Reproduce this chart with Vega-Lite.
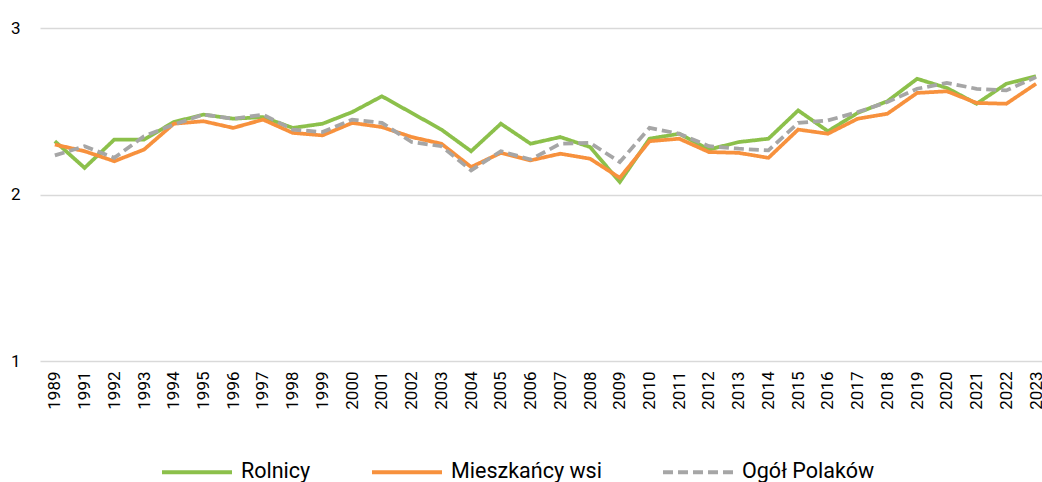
{
  "$schema": "https://vega.github.io/schema/vega-lite/v6.json",
  "width": 1002,
  "height": 333,
  "autosize": {"type": "none"},
  "padding": {"left": 40, "top": 28, "right": 0, "bottom": 121},
  "background": "white",
  "config": {"view": {"stroke": null}, "font": "Roboto"},
  "data": {"values": [
    {"year":"1989","series":"Rolnicy","value":2.32},{"year":"1991","series":"Rolnicy","value":2.16},{"year":"1992","series":"Rolnicy","value":2.33},{"year":"1993","series":"Rolnicy","value":2.33},{"year":"1994","series":"Rolnicy","value":2.435},{"year":"1995","series":"Rolnicy","value":2.48},{"year":"1996","series":"Rolnicy","value":2.455},{"year":"1997","series":"Rolnicy","value":2.465},{"year":"1998","series":"Rolnicy","value":2.4},{"year":"1999","series":"Rolnicy","value":2.425},{"year":"2000","series":"Rolnicy","value":2.495},{"year":"2001","series":"Rolnicy","value":2.59},{"year":"2002","series":"Rolnicy","value":2.49},{"year":"2003","series":"Rolnicy","value":2.39},{"year":"2004","series":"Rolnicy","value":2.26},{"year":"2005","series":"Rolnicy","value":2.425},{"year":"2006","series":"Rolnicy","value":2.305},{"year":"2007","series":"Rolnicy","value":2.345},{"year":"2008","series":"Rolnicy","value":2.285},{"year":"2009","series":"Rolnicy","value":2.075},{"year":"2010","series":"Rolnicy","value":2.335},{"year":"2011","series":"Rolnicy","value":2.365},{"year":"2012","series":"Rolnicy","value":2.27},{"year":"2013","series":"Rolnicy","value":2.315},{"year":"2014","series":"Rolnicy","value":2.335},{"year":"2015","series":"Rolnicy","value":2.505},{"year":"2016","series":"Rolnicy","value":2.38},{"year":"2017","series":"Rolnicy","value":2.49},{"year":"2018","series":"Rolnicy","value":2.56},{"year":"2019","series":"Rolnicy","value":2.695},{"year":"2020","series":"Rolnicy","value":2.64},{"year":"2021","series":"Rolnicy","value":2.545},{"year":"2022","series":"Rolnicy","value":2.665},{"year":"2023","series":"Rolnicy","value":2.71},
    {"year":"1989","series":"Mieszkańcy wsi","value":2.3},{"year":"1991","series":"Mieszkańcy wsi","value":2.26},{"year":"1992","series":"Mieszkańcy wsi","value":2.2},{"year":"1993","series":"Mieszkańcy wsi","value":2.27},{"year":"1994","series":"Mieszkańcy wsi","value":2.425},{"year":"1995","series":"Mieszkańcy wsi","value":2.44},{"year":"1996","series":"Mieszkańcy wsi","value":2.4},{"year":"1997","series":"Mieszkańcy wsi","value":2.45},{"year":"1998","series":"Mieszkańcy wsi","value":2.37},{"year":"1999","series":"Mieszkańcy wsi","value":2.355},{"year":"2000","series":"Mieszkańcy wsi","value":2.43},{"year":"2001","series":"Mieszkańcy wsi","value":2.405},{"year":"2002","series":"Mieszkańcy wsi","value":2.345},{"year":"2003","series":"Mieszkańcy wsi","value":2.305},{"year":"2004","series":"Mieszkańcy wsi","value":2.165},{"year":"2005","series":"Mieszkańcy wsi","value":2.25},{"year":"2006","series":"Mieszkańcy wsi","value":2.205},{"year":"2007","series":"Mieszkańcy wsi","value":2.245},{"year":"2008","series":"Mieszkańcy wsi","value":2.215},{"year":"2009","series":"Mieszkańcy wsi","value":2.1},{"year":"2010","series":"Mieszkańcy wsi","value":2.32},{"year":"2011","series":"Mieszkańcy wsi","value":2.335},{"year":"2012","series":"Mieszkańcy wsi","value":2.255},{"year":"2013","series":"Mieszkańcy wsi","value":2.25},{"year":"2014","series":"Mieszkańcy wsi","value":2.22},{"year":"2015","series":"Mieszkańcy wsi","value":2.39},{"year":"2016","series":"Mieszkańcy wsi","value":2.365},{"year":"2017","series":"Mieszkańcy wsi","value":2.455},{"year":"2018","series":"Mieszkańcy wsi","value":2.485},{"year":"2019","series":"Mieszkańcy wsi","value":2.61},{"year":"2020","series":"Mieszkańcy wsi","value":2.62},{"year":"2021","series":"Mieszkańcy wsi","value":2.55},{"year":"2022","series":"Mieszkańcy wsi","value":2.545},{"year":"2023","series":"Mieszkańcy wsi","value":2.665},
    {"year":"1989","series":"Ogół Polaków","value":2.235},{"year":"1991","series":"Ogół Polaków","value":2.29},{"year":"1992","series":"Ogół Polaków","value":2.22},{"year":"1993","series":"Ogół Polaków","value":2.35},{"year":"1994","series":"Ogół Polaków","value":2.42},{"year":"1995","series":"Ogół Polaków","value":2.48},{"year":"1996","series":"Ogół Polaków","value":2.455},{"year":"1997","series":"Ogół Polaków","value":2.48},{"year":"1998","series":"Ogół Polaków","value":2.39},{"year":"1999","series":"Ogół Polaków","value":2.375},{"year":"2000","series":"Ogół Polaków","value":2.45},{"year":"2001","series":"Ogół Polaków","value":2.43},{"year":"2002","series":"Ogół Polaków","value":2.315},{"year":"2003","series":"Ogół Polaków","value":2.29},{"year":"2004","series":"Ogół Polaków","value":2.145},{"year":"2005","series":"Ogół Polaków","value":2.26},{"year":"2006","series":"Ogół Polaków","value":2.21},{"year":"2007","series":"Ogół Polaków","value":2.305},{"year":"2008","series":"Ogół Polaków","value":2.31},{"year":"2009","series":"Ogół Polaków","value":2.195},{"year":"2010","series":"Ogół Polaków","value":2.4},{"year":"2011","series":"Ogół Polaków","value":2.365},{"year":"2012","series":"Ogół Polaków","value":2.29},{"year":"2013","series":"Ogół Polaków","value":2.275},{"year":"2014","series":"Ogół Polaków","value":2.265},{"year":"2015","series":"Ogół Polaków","value":2.43},{"year":"2016","series":"Ogół Polaków","value":2.445},{"year":"2017","series":"Ogół Polaków","value":2.495},{"year":"2018","series":"Ogół Polaków","value":2.555},{"year":"2019","series":"Ogół Polaków","value":2.635},{"year":"2020","series":"Ogół Polaków","value":2.67},{"year":"2021","series":"Ogół Polaków","value":2.635},{"year":"2022","series":"Ogół Polaków","value":2.625},{"year":"2023","series":"Ogół Polaków","value":2.705}
  ]},
  "mark": {"type": "line", "strokeWidth": 3.75, "strokeJoin": "miter"},
  "encoding": {
    "x": {
      "field": "year", "type": "ordinal", "sort": null,
      "scale": {"type": "point", "padding": 0.35, "align": 0.714},
      "axis": {"title": null, "labelAngle": -90, "labelFontSize": 17, "labelColor": "#000000", "labelFont": "Roboto", "ticks": false, "domain": false, "labelPadding": 10, "grid": false}
    },
    "y": {
      "field": "value", "type": "quantitative",
      "scale": {"domain": [1, 3], "nice": false, "zero": false},
      "axis": {"title": null, "values": [1, 2, 3], "format": ".0f", "labelFontSize": 17, "labelColor": "#000000", "labelFont": "Roboto", "ticks": false, "domain": false, "labelPadding": 20, "grid": true, "gridColor": "#d9d9d9", "gridWidth": 1.5}
    },
    "color": {
      "field": "series", "type": "nominal",
      "scale": {"domain": ["Rolnicy", "Mieszkańcy wsi", "Ogół Polaków"], "range": ["#8CC04B", "#F7913D", "#A6A6A6"]},
      "legend": {"title": null, "orient": "none", "direction": "horizontal", "legendX": 120, "legendY": 407, "symbolType": "stroke", "symbolSize": 4900, "symbolStrokeWidth": 4, "labelFontSize": 21.5, "labelFont": "Roboto", "labelColor": "#000000", "labelOffset": 7, "columnPadding": 53}
    },
    "strokeDash": {
      "field": "series", "type": "nominal",
      "scale": {"domain": ["Rolnicy", "Mieszkańcy wsi", "Ogół Polaków"], "range": [[1, 0], [1, 0], [10, 5]]},
      "legend": {"title": null, "orient": "none", "direction": "horizontal", "legendX": 120, "legendY": 407, "symbolType": "stroke", "symbolSize": 4900, "symbolStrokeWidth": 4, "labelFontSize": 21.5, "labelFont": "Roboto", "labelColor": "#000000", "labelOffset": 7, "columnPadding": 53}
    }
  }
}
